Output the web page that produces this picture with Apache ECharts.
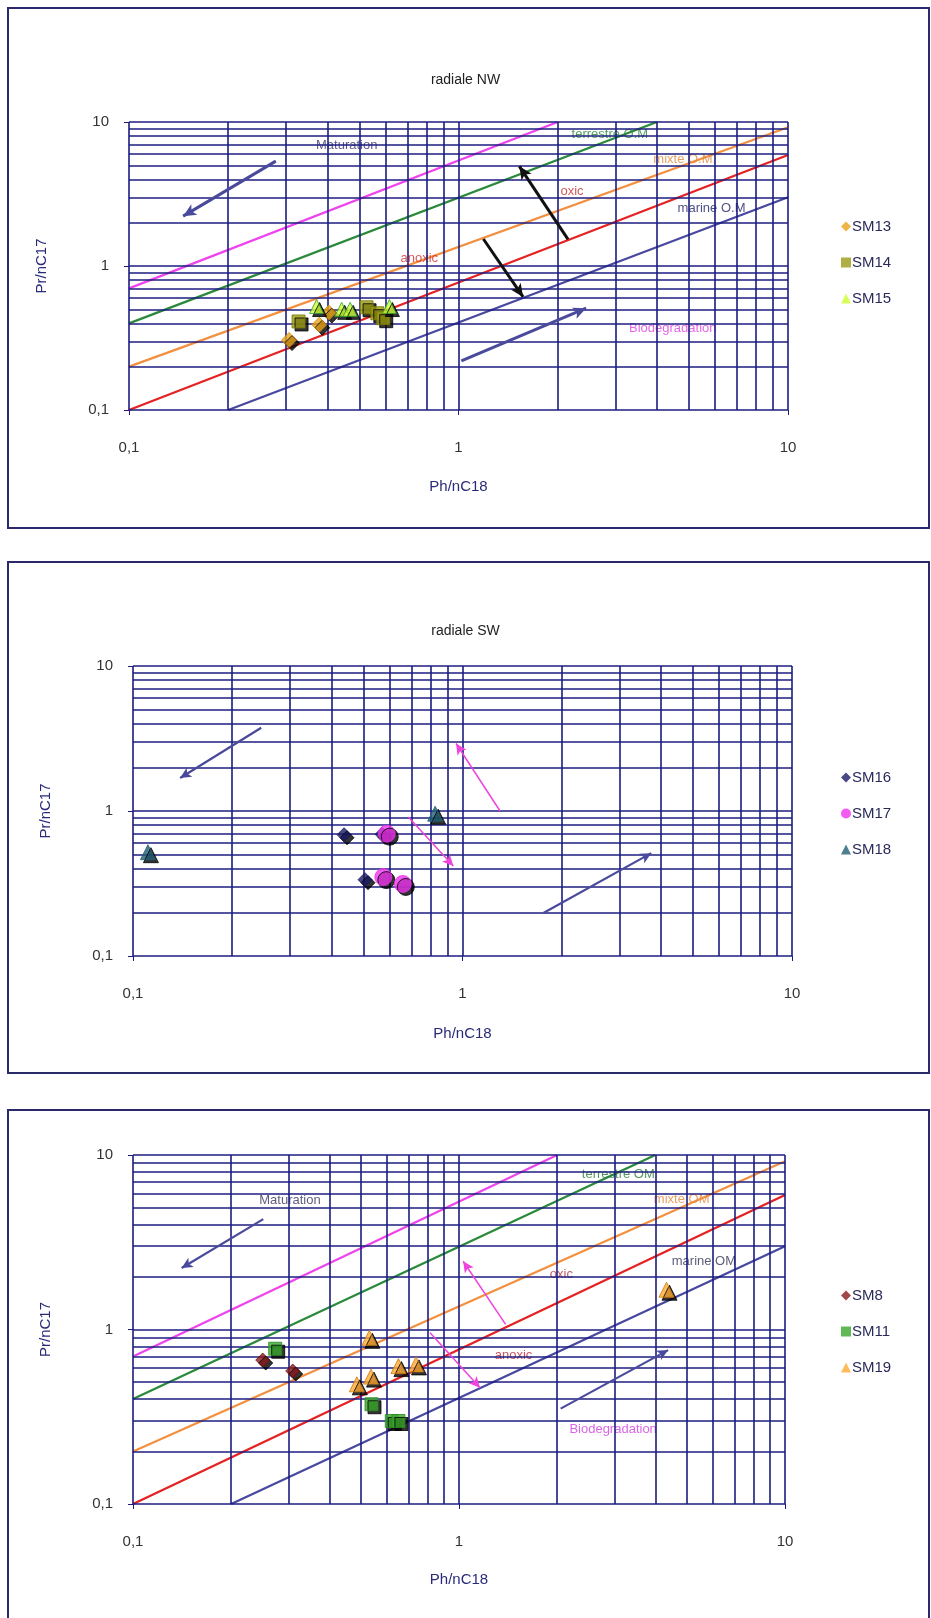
<!DOCTYPE html>
<html>
<head>
<meta charset="utf-8">
<script src="https://cdn.jsdelivr.net/npm/echarts@6/dist/echarts.min.js"></script>
<style>
html,body{margin:0;padding:0;background:#fff;}
#c{width:931px;height:1618px;}
</style>
</head>
<body>
<div id="c"></div>
<script>
// ---------- data ----------
const tickLabels = [0.1, 1, 10];
const gridVals = [0.1,0.2,0.3,0.4,0.5,0.6,0.7,0.8,0.9,1,2,3,4,5,6,7,8,9,10];

// reference lines (Pr/nC17 vs Ph/nC18)
const lineMaturation = [[0.1, 0.7], [2, 10]];
const lineTerrestre  = [[0.1, 0.4], [4, 10]];
const lineMixte      = [[0.1, 0.2], [10, 9.2]];
const lineOxic       = [[0.1, 0.1], [10, 5.9]];
const lineMarine     = [[0.2, 0.1], [10, 3.0]];

// panel 1 : radiale NW
const sm13 = [[0.306,0.306],[0.378,0.391],[0.404,0.475]];
const sm14 = [[0.327,0.412],[0.526,0.517],[0.567,0.470],[0.591,0.434]];
const sm15 = [[0.371,0.523],[0.442,0.500],[0.469,0.500],[0.617,0.523]];
const arrows1Navy  = [[[0.279,5.35],[0.146,2.22]], [[1.02,0.219],[2.44,0.509]]];
const arrows1Black = [[[2.15,1.53],[1.53,4.92]], [[1.19,1.54],[1.57,0.61]]];
const notes1 = [
  ['Maturation', 0.458, 6.9, '#34346e'],
  ['terrestre O.M', 2.88, 8.2, '#2a8a3a'],
  ['mixte O.M.', 4.86, 5.46, '#e08a40'],
  ['oxic', 2.21, 3.31, '#c03030'],
  ['marine O.M', 5.86, 2.5, '#22226a'],
  ['anoxic', 0.76, 1.12, '#d03030'],
  ['Biodégradation', 4.47, 0.371, '#e040e0']
];

// panel 2 : radiale SW
const sm16 = [[0.437,0.686],[0.506,0.336],[0.570,0.690]];
const sm17 = [[0.589,0.697],[0.575,0.350],[0.659,0.314]];
const sm18 = [[0.111,0.520],[0.826,0.958]];
const arrows2Navy    = [[[0.245,3.75],[0.139,1.69]], [[1.76,0.198],[3.74,0.512]]];
const arrows2Magenta = [[[1.30,1.0],[0.956,2.92]], [[0.685,0.909],[0.938,0.417]]];

// panel 3
const sm8  = [[0.250,0.668],[0.309,0.578]];
const sm11 = [[0.273,0.776],[0.539,0.373],[0.622,0.299],[0.652,0.299]];
const sm19 = [[0.531,0.896],[0.486,0.485],[0.537,0.537],[0.652,0.617],[0.738,0.631],[4.33,1.69]];
const arrows3Navy    = [[[0.251,4.29],[0.141,2.25]], [[2.05,0.352],[4.38,0.762]]];
const arrows3Magenta = [[[1.39,1.07],[1.03,2.46]], [[0.815,0.957],[1.16,0.464]]];
const notes3 = [
  ['Maturation', 0.303, 5.46, '#34345e'],
  ['terrestre OM', 3.08, 7.76, '#2a7a3a'],
  ['mixte OM', 4.82, 5.53, '#e08a40'],
  ['oxic', 2.06, 2.08, '#b03040'],
  ['marine OM', 5.64, 2.44, '#333355'],
  ['anoxic', 1.47, 0.713, '#c02a3a'],
  ['Biodegradation', 2.97, 0.268, '#d040e0']
];

// ---------- styles ----------
const FONT = 'Liberation Sans, Arial, sans-serif';
const GRIDCOL = '#1c1c80';
const panels = [
  {grid:{left:129, top:122, width:659, height:288}, title:'radiale NW', titleTop:68, legendTop:214, lines:true, nameGap:69},
  {grid:{left:133, top:666, width:659, height:290}, title:'radiale SW', titleTop:619, legendTop:765, lines:false, nameGap:70},
  {grid:{left:133, top:1155, width:652, height:349}, title:'', titleTop:0, legendTop:1283, lines:true, nameGap:68}
];

function fmt(v){ return String(Number(v.toPrecision(3))).replace('.', ','); }

const option = {
  animation:false,
  backgroundColor:'#fff',
  textStyle:{fontFamily:FONT},
  title:[], grid:[], xAxis:[], yAxis:[], legend:[], series:[],
  graphic:[
    {type:'rect', shape:{x:8,y:8,width:921,height:520}, style:{fill:'none', stroke:'#2a2a6a', lineWidth:2}, z:0},
    {type:'rect', shape:{x:8,y:562,width:921,height:511}, style:{fill:'none', stroke:'#2a2a6a', lineWidth:2}, z:0},
    {type:'rect', shape:{x:8,y:1110,width:921,height:530}, style:{fill:'none', stroke:'#2a2a6a', lineWidth:2}, z:0}
  ]
};

panels.forEach((p, i) => {
  option.grid.push(Object.assign({containLabel:false}, p.grid));
  if (p.title) option.title.push({text:p.title, left:'center', top:p.titleTop,
    textStyle:{fontSize:14, fontWeight:'normal', color:'#222', fontFamily:FONT}});
  option.xAxis.push({type:'log', logBase:10, min:0.1, max:10, gridIndex:i,
    name:'Ph/nC18', nameLocation:'middle', nameGap:p.nameGap,
    nameTextStyle:{fontSize:15, color:'#2a2a7a', fontFamily:FONT},
    axisLine:{show:false}, splitLine:{show:false},
    axisTick:{show:true, length:5, lineStyle:{color:GRIDCOL}},
    axisLabel:{margin:30, fontSize:15, color:'#333', fontFamily:FONT, formatter:fmt,
      customValues: tickLabels},
  });
  option.yAxis.push({type:'log', logBase:10, min:0.1, max:10, gridIndex:i,
    name:'Pr/nC17', nameLocation:'middle', nameGap:80, nameRotate:90,
    nameTextStyle:{fontSize:15, color:'#2a2a7a', fontFamily:FONT},
    axisLine:{show:false}, splitLine:{show:false},
    axisTick:{show:true, length:5, lineStyle:{color:GRIDCOL}},
    axisLabel:{margin:20, fontSize:15, color:'#333', fontFamily:FONT, formatter:fmt}
  });
  // grid lines through the axes
  option.series.push({type:'line', name:'_grid'+i, xAxisIndex:i, yAxisIndex:i, data:[], silent:true, z:1,
    markLine:{silent:true, symbol:['none','none'], label:{show:false}, animation:false,
      lineStyle:{color:GRIDCOL, width:1.6, type:'solid'},
      emphasis:{disabled:true},
      data: gridVals.map(v=>({xAxis:v})).concat(gridVals.map(v=>({yAxis:v})))}
  });
  if (p.lines) {
    [[lineMaturation,'#ee44ee'],[lineTerrestre,'#2a8a3a'],[lineMixte,'#f39040'],[lineOxic,'#e52222'],[lineMarine,'#4848a0']]
    .forEach(([d,c],k)=>{
      option.series.push({type:'line', name:'_l'+i+'_'+k, xAxisIndex:i, yAxisIndex:i, data:d,
        showSymbol:false, silent:true, z:2, lineStyle:{color:c, width:2.3}});
    });
  }
});

function arrowSeries(idx, arr, color, width, size){
  return {type:'line', name:'_a', xAxisIndex:idx, yAxisIndex:idx, data:[], silent:true, z:3,
    markLine:{silent:true, symbol:['none','arrow'], symbolSize:size, label:{show:false},
      lineStyle:{color:color, width:width, type:'solid'}, emphasis:{disabled:true},
      data: arr.map(a=>[{coord:a[0]},{coord:a[1]}])}};
}
function noteSeries(idx, notes){
  return {type:'scatter', name:'_n', xAxisIndex:idx, yAxisIndex:idx, silent:true, z:4,
    symbolSize:0.1, itemStyle:{color:'rgba(0,0,0,0)'},
    data: notes.map(n=>({name:n[0], value:[n[1],n[2]],
      label:{show:true, position:'inside', formatter:'{b}', color:n[3], fontSize:13, fontFamily:FONT}}))};
}
const shadow = {shadowColor:'#000', shadowOffsetX:3, shadowOffsetY:3, shadowBlur:0};
function pts(idx, name, data, symbol, size, color, border){
  return {type:'scatter', name:name, xAxisIndex:idx, yAxisIndex:idx, data:data, z:6,
    symbol:symbol, symbolSize:size,
    itemStyle:Object.assign({color:color, borderColor:border||color, borderWidth:1}, shadow)};
}

option.series.push(arrowSeries(0, arrows1Navy, '#4a4a9c', 3, [9,13]));
option.series.push(arrowSeries(0, arrows1Black, '#111', 3, [9,13]));
option.series.push(noteSeries(0, notes1));
option.series.push(pts(0,'SM13', sm13, 'diamond', 15, '#e8a418', '#d08a10'));
option.series.push(pts(0,'SM14', sm14, 'rect', 13, '#9b9b14', '#7a7a00'));
option.series.push(pts(0,'SM15', sm15, 'triangle', 14, '#ccff33', '#339933'));

option.series.push(arrowSeries(1, arrows2Navy, '#4a4a9c', 2.2, [8,11]));
option.series.push(arrowSeries(1, arrows2Magenta, '#ee44dd', 1.5, [8,11]));
option.series.push(pts(1,'SM16', sm16, 'diamond', 14, '#1a1a66', '#1a1a66'));
option.series.push(pts(1,'SM17', sm17, 'circle', 17, '#ee33ee', '#ee33ee'));
option.series.push(pts(1,'SM18', sm18, 'triangle', 15, '#215f74', '#215f74'));

option.series.push(arrowSeries(2, arrows3Navy, '#4a4a9c', 2.2, [8,11]));
option.series.push(arrowSeries(2, arrows3Magenta, '#ee44dd', 1.5, [8,11]));
option.series.push(noteSeries(2, notes3));
option.series.push(pts(2,'SM8', sm8, 'diamond', 14, '#8b1a1a', '#6a1010'));
option.series.push(pts(2,'SM11', sm11, 'rect', 13, '#39a82a', '#2a8a20'));
option.series.push(pts(2,'SM19', sm19, 'triangle', 15, '#ffaa33', '#cc7a10'));

const legendNames = [[['SM13','diamond'],['SM14','rect'],['SM15','triangle']],
                     [['SM16','diamond'],['SM17','circle'],['SM18','triangle']],
                     [['SM8','diamond'],['SM11','rect'],['SM19','triangle']]];
panels.forEach((p,i)=>{
  option.legend.push({orient:'vertical', left:836, top:p.legendTop, itemGap:21,
    itemWidth:10, itemHeight:10, selectedMode:false,
    itemStyle:{shadowColor:'rgba(0,0,0,0)', shadowOffsetX:0, shadowOffsetY:0, borderWidth:0},
    textStyle:{fontSize:15, color:'#2a2a5a', fontFamily:FONT, padding:[0,0,0,-4]},
    data: legendNames[i].map(n=>({name:n[0], icon:n[1]}))});
});

const chart = echarts.init(document.getElementById('c'), null, {renderer:'canvas'});
chart.setOption(option);
</script>
</body>
</html>
